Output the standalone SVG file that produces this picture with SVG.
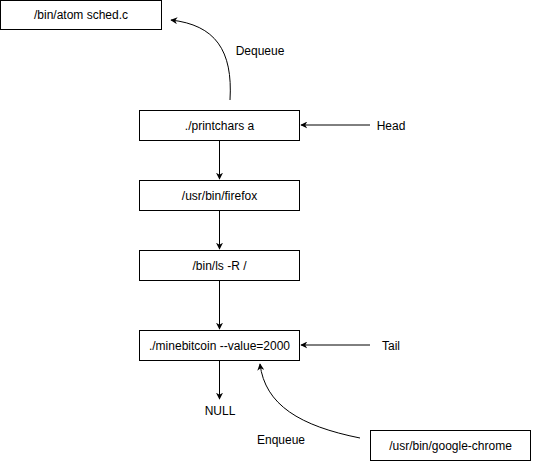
<svg xmlns="http://www.w3.org/2000/svg" width="533" height="461" viewBox="0 0 533 461">
<defs>
<marker id="ah" viewBox="0 0 10 10" refX="9" refY="5" markerWidth="7" markerHeight="7" markerUnits="userSpaceOnUse" orient="auto">
<path d="M0,0 L10,5 L0,10 L3,5 Z" fill="#000"/>
</marker>
<style>
.box{fill:#fff;stroke:#000;stroke-width:1}
.t{font-family:"Liberation Sans",Arial,sans-serif;font-size:12px;fill:#000;text-anchor:middle;dominant-baseline:central}
.c{fill:none;stroke:#000;stroke-width:1;marker-end:url(#ah)}
</style>
</defs>
<rect width="533" height="461" fill="#fff"/>
<g id="connectors">
<path class="c" d="M219.5,140 L219.5,179"/>
<path class="c" d="M219.5,210 L219.5,249"/>
<path class="c" d="M219.5,280 L219.5,329"/>
<path class="c" d="M219.5,360 L219.5,399"/>
<path class="c" d="M370,125 L301,125"/>
<path class="c" d="M370,345 L301,345"/>
<path class="c" d="M230,100 C233,50 215,25 171,20"/>
<path class="c" d="M360,438 C300,426 265,405 260,364"/>
</g>
<g id="atom"><rect class="box" x="0.5" y="0.5" width="161" height="29"/><text class="t" x="81" y="15">/bin/atom sched.c</text></g>
<g id="printchars"><rect class="box" x="139.5" y="110.5" width="160" height="30"/><text class="t" x="219.5" y="125.5">./printchars a</text></g>
<g id="firefox"><rect class="box" x="139.5" y="180.5" width="160" height="30"/><text class="t" x="219.5" y="195.5">/usr/bin/firefox</text></g>
<g id="ls"><rect class="box" x="139.5" y="250.5" width="160" height="30"/><text class="t" x="219.5" y="265.5">/bin/ls -R /</text></g>
<g id="minebitcoin"><rect class="box" x="139.5" y="330.5" width="160" height="30"/><text class="t" x="219.5" y="345.5">./minebitcoin --value=2000</text></g>
<g id="chrome"><rect class="box" x="370.5" y="430.5" width="160" height="30"/><text class="t" x="450.5" y="445.5">/usr/bin/google-chrome</text></g>
<g id="labels">
<text class="t" x="260" y="51">Dequeue</text>
<text class="t" x="391" y="126">Head</text>
<text class="t" x="391" y="346">Tail</text>
<text class="t" x="220" y="411">NULL</text>
<text class="t" x="281" y="440">Enqueue</text>
</g>
</svg>
